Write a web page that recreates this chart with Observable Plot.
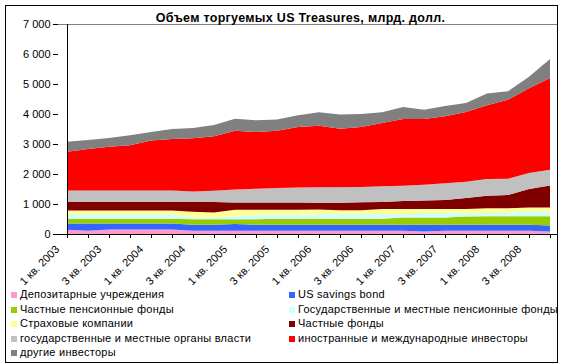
<!DOCTYPE html>
<html><head><meta charset="utf-8">
<script src="https://cdn.jsdelivr.net/npm/d3@7"></script>
<script src="https://cdn.jsdelivr.net/npm/@observablehq/plot@0.6"></script>
<style>
body{margin:0;background:#fff;}
#wrap{position:relative;width:565px;height:363px;font-family:"Liberation Sans",Arial,sans-serif;overflow:hidden;background:#fff;}
#wrap svg{position:absolute;left:0;top:0;}
#frame{position:absolute;left:5px;top:5px;width:553px;height:358px;border:1px solid #000;box-sizing:border-box;overflow:hidden;}
#title{position:absolute;left:0;top:11px;width:601px;text-align:center;font-weight:bold;font-size:12.5px;letter-spacing:0.3px;color:#000;}
.li{position:absolute;font-size:11px;line-height:12px;letter-spacing:0.25px;white-space:nowrap;color:#000;}
.sw{position:absolute;width:6px;height:6px;}
</style></head>
<body>
<div id="wrap"></div>
<script>
// ---- data (values in bn USD) ----
const quarters = [
  "1 кв. 2003","2 кв. 2003","3 кв. 2003","4 кв. 2003",
  "1 кв. 2004","2 кв. 2004","3 кв. 2004","4 кв. 2004",
  "1 кв. 2005","2 кв. 2005","3 кв. 2005","4 кв. 2005",
  "1 кв. 2006","2 кв. 2006","3 кв. 2006","4 кв. 2006",
  "1 кв. 2007","2 кв. 2007","3 кв. 2007","4 кв. 2007",
  "1 кв. 2008","2 кв. 2008","3 кв. 2008","4 кв. 2008"
];
const depository     = [140,110,150,150,150,150,110,110,110,110,110,110,110,110,110,110,110,80,110,110,110,110,110,80];
const savingsBonds   = [210,240,200,200,200,200,200,200,220,200,200,200,200,200,200,200,200,230,200,200,200,200,200,200];
const privatePension = [160,160,160,160,160,160,180,180,160,180,200,200,200,200,200,200,240,240,240,270,280,280,280,310];
const statePension   = [130,130,130,130,130,130,70,50,110,140,120,120,150,150,150,150,110,140,140,110,100,120,150,150];
const insurance      = [140,140,140,140,140,140,180,180,210,180,180,180,160,130,130,170,170,140,140,140,170,150,145,145];
const mutualFunds    = [290,290,290,290,290,290,330,350,240,240,240,240,220,250,265,240,270,290,305,370,415,440,615,735];
const stateLocalGov  = [380,380,380,380,380,380,350,370,430,460,480,500,520,520,515,520,510,520,555,540,555,540,530,520];
const foreign        = [1295,1380,1455,1505,1670,1715,1770,1815,1965,1890,1915,2015,2050,1950,1995,2110,2225,2195,2235,2330,2460,2635,2825,3060];
const otherInvestors = [330,305,295,335,280,335,345,380,400,390,375,390,445,470,435,355,400,310,340,295,390,280,390,635];

const seriesNames = [
  "Депозитарные учреждения","US savings bond","Частные пенсионные фонды",
  "Государственные и местные пенсионные фонды","Страховые компании","Частные фонды",
  "государственные и местные органы власти","иностранные и международные инвесторы","другие инвесторы"
];
const seriesColors = ["#FF99CC","#3366FF","#99CC00","#CCFFFF","#FFFF99","#800000","#C0C0C0","#FF0000","#808080"];
const yTicks = [0,1000,2000,3000,4000,5000,6000,7000];
const xLabels = quarters.filter((d,i) => i % 2 === 0);
const titleText = "Объем торгуемых US Treasures, млрд. долл.";

// ---- build ----
const seriesValues = [depository,savingsBonds,privatePension,statePension,insurance,mutualFunds,stateLocalGov,foreign,otherInvestors];
const rows = [];
seriesNames.forEach((s, k) => quarters.forEach((q, i) => rows.push({s, q, v: seriesValues[k][i]})));

const fmt = d3.formatLocale({decimal: ",", thousands: "\u00a0", grouping: [3], currency: ["", ""]}).format(",d");

const chart = Plot.plot({
  width: 565, height: 363,
  marginLeft: 58, marginRight: 7, marginTop: 24, marginBottom: 129,
  style: {fontFamily: "'Liberation Sans', Arial, sans-serif", fontSize: "11px", background: "transparent", color: "#000"},
  x: {type: "point", domain: quarters, padding: 0, axis: null},
  y: {domain: [0, 7000], axis: null},
  color: {domain: seriesNames, range: seriesColors},
  marks: [
    Plot.areaY(rows, {x: "q", y: "v", z: "s", fill: "s", order: seriesNames, curve: "linear"}),
    Plot.ruleY([7000], {stroke: "#808080"}),
    Plot.ruleY([0], {stroke: "#000"}),
    Plot.ruleX([quarters[0]], {stroke: "#000"}),
    Plot.axisY({ticks: yTicks, tickSize: 5, tickPadding: 3, tickFormat: fmt, label: null, fontSize: 11, stroke: "#000", fill: "#000"}),
    Plot.axisX({ticks: quarters, tickSize: 4, tickFormat: () => "", label: null, stroke: "#000"}),
    Plot.text(xLabels, {x: d => d, frameAnchor: "bottom", rotate: -45, textAnchor: "end", lineAnchor: "middle", dx: -10, dy: 13, fontSize: 11, fill: "#000"})
  ]
});

const wrap = document.getElementById("wrap");
wrap.appendChild(chart);

const title = document.createElement("div");
title.id = "title"; title.textContent = titleText;
wrap.appendChild(title);

const frame = document.createElement("div");
frame.id = "frame";
wrap.appendChild(frame);

// legend (inside frame so it is clipped like the original)
const rowY = [294, 308.5, 323, 337.5, 352];
const colX = [10, 288];
seriesNames.forEach((s, k) => {
  const r = Math.floor(k / 2), c = k % 2;
  const sw = document.createElement("div");
  sw.className = "sw";
  sw.style.background = seriesColors[k];
  sw.style.left = (colX[c] - 5) + "px";
  sw.style.top = (rowY[r] - 3 - 5) + "px";
  frame.appendChild(sw);
  const t = document.createElement("div");
  t.className = "li";
  t.textContent = s;
  t.style.left = (colX[c] + 9 - 5) + "px";
  t.style.top = (rowY[r] - 7 - 5) + "px";
  frame.appendChild(t);
});
</script>
</body></html>
